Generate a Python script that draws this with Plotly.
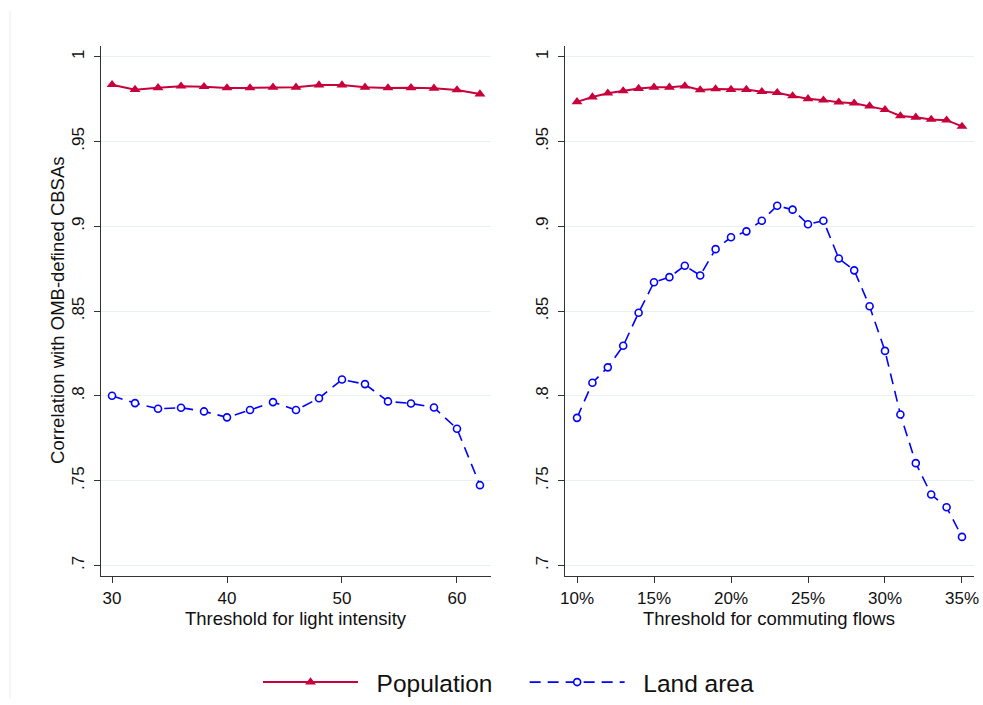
import plotly.graph_objects as go

# Left panel: threshold for light intensity
light_x = [30, 32, 34, 36, 38, 40, 42, 44, 46, 48, 50, 52, 54, 56, 58, 60, 62]
light_pop = [0.9835, 0.9806, 0.9817, 0.9826, 0.9823, 0.9816, 0.9816, 0.9820, 0.9820,
             0.9833, 0.9833, 0.9820, 0.9816, 0.9817, 0.9814, 0.9804, 0.9780]
light_land = [0.8000, 0.7957, 0.7924, 0.7930, 0.7908, 0.7873, 0.7916, 0.7963, 0.7916,
              0.7986, 0.8096, 0.8069, 0.7967, 0.7955, 0.7931, 0.7806, 0.7473]

# Right panel: threshold for commuting flows (percent)
comm_x = list(range(10, 36))
comm_pop = [0.9734, 0.9762, 0.9785, 0.9798, 0.9812, 0.9820, 0.9820, 0.9827, 0.9804,
            0.9810, 0.9806, 0.9806, 0.9794, 0.9788, 0.9769, 0.9752, 0.9744, 0.9732,
            0.9726, 0.9709, 0.9688, 0.9651, 0.9643, 0.9630, 0.9626, 0.9589]
comm_land = [0.7870, 0.8077, 0.8168, 0.8295, 0.8490, 0.8670, 0.8700, 0.8767, 0.8710,
             0.8865, 0.8935, 0.8970, 0.9033, 0.9121, 0.9098, 0.9012, 0.9033, 0.8810,
             0.8740, 0.8528, 0.8265, 0.7890, 0.7603, 0.7418, 0.7343, 0.7168]

y_ticks = [0.7, 0.75, 0.8, 0.85, 0.9, 0.95, 1.0]
y_labels = [".7", ".75", ".8", ".85", ".9", ".95", "1"]
light_ticks = [30, 40, 50, 60]
comm_ticks = [10, 15, 20, 25, 30, 35]
comm_labels = ["10%", "15%", "20%", "25%", "30%", "35%"]

POP_COLOR = "#c8003c"
LAND_COLOR = "#0000ff"

W, H = 983, 705


def px_x(v):
    return v / W


def px_y(v):
    return 1 - v / H


fig = go.Figure()

pop_style = dict(mode="lines+markers", line=dict(color=POP_COLOR, width=2),
                 marker=dict(symbol="triangle-up", size=9.5, color=POP_COLOR))
land_style = dict(mode="lines+markers", line=dict(color=LAND_COLOR, width=1.6, dash="11px,7px"),
                  marker=dict(symbol="circle", size=7, color="white",
                              line=dict(color=LAND_COLOR, width=1.6)))

NB = "\u00a0"
fig.add_trace(go.Scatter(x=light_x, y=light_pop, name=NB * 2 + "Population" + NB * 4,
                         xaxis="x", yaxis="y", legendgroup="pop", **pop_style))
fig.add_trace(go.Scatter(x=light_x, y=light_land, name=NB * 2 + "Land area",
                         xaxis="x", yaxis="y", legendgroup="land", **land_style))
fig.add_trace(go.Scatter(x=comm_x, y=comm_pop, name="Population", xaxis="x2", yaxis="y2",
                         legendgroup="pop", showlegend=False, **pop_style))
fig.add_trace(go.Scatter(x=comm_x, y=comm_land, name="Land area", xaxis="x2", yaxis="y2",
                         legendgroup="land", showlegend=False, **land_style))

AX_COLOR = "#333333"
GRID = "#e8f0f2"
FONT = "Liberation Sans, Arial, sans-serif"
TICK_FS = 17
TITLE_FS = 18.5

ydom = [px_y(582), px_y(46)]
common_x = dict(showline=True, linecolor=AX_COLOR, linewidth=1.2, ticks="outside",
                ticklen=6, tickcolor=AX_COLOR, showgrid=False, zeroline=False,
                tickfont=dict(size=TICK_FS, color="#111"), automargin=False)
common_y = dict(showline=True, linecolor=AX_COLOR, linewidth=1.2, ticks="outside",
                ticklen=6, tickcolor=AX_COLOR, showgrid=True, gridcolor=GRID, gridwidth=1.2,
                zeroline=False, tickangle=-90, tickvals=y_ticks, ticktext=y_labels,
                ticklabelstandoff=3,
                tickfont=dict(size=TICK_FS, color="#111"), range=[0.6936, 1.0066],
                domain=ydom, automargin=False)

fig.update_layout(
    width=W, height=H,
    margin=dict(l=0, r=0, t=0, b=0),
    paper_bgcolor="white", plot_bgcolor="white",
    font=dict(family=FONT, color="#111"),
    xaxis=dict(domain=[px_x(101), px_x(491)], range=[29.04, 62.96], tickvals=light_ticks,
               anchor="y", **common_x),
    yaxis=dict(anchor="x", **common_y),
    xaxis2=dict(domain=[px_x(565), px_x(974)], range=[9.22, 35.78], tickvals=comm_ticks,
                ticktext=comm_labels, anchor="y2", **common_x),
    yaxis2=dict(anchor="x2", **common_y),
    showlegend=True,
    legend=dict(orientation="h", x=px_x(258), xanchor="left", y=px_y(689), yanchor="middle",
                font=dict(size=24.5, color="#111"), itemwidth=95, bgcolor="rgba(0,0,0,0)"),
    annotations=[
        dict(text="Correlation with OMB-defined CBSAs", x=px_x(58), y=px_y(314),
             xref="paper", yref="paper", textangle=-90, showarrow=False,
             font=dict(size=TITLE_FS, color="#111"), xanchor="center", yanchor="middle"),
        dict(text="Threshold for light intensity", x=px_x(296), y=px_y(625),
             xref="paper", yref="paper", showarrow=False,
             font=dict(size=TITLE_FS, color="#111"), xanchor="center", yanchor="middle"),
        dict(text="Threshold for commuting flows", x=px_x(769), y=px_y(625),
             xref="paper", yref="paper", showarrow=False,
             font=dict(size=TITLE_FS, color="#111"), xanchor="center", yanchor="middle"),
    ],
    shapes=[
        dict(type="line", xref="paper", yref="paper", x0=px_x(10), x1=px_x(10),
             y0=0, y1=px_y(11), line=dict(color="#ececec", width=1)),
    ],
)

# remove the default page margin so the 983x705 figure fills the window exactly
fig.write_html("out.html", config={"displayModeBar": False},
               post_script="document.body.style.margin='0';")
